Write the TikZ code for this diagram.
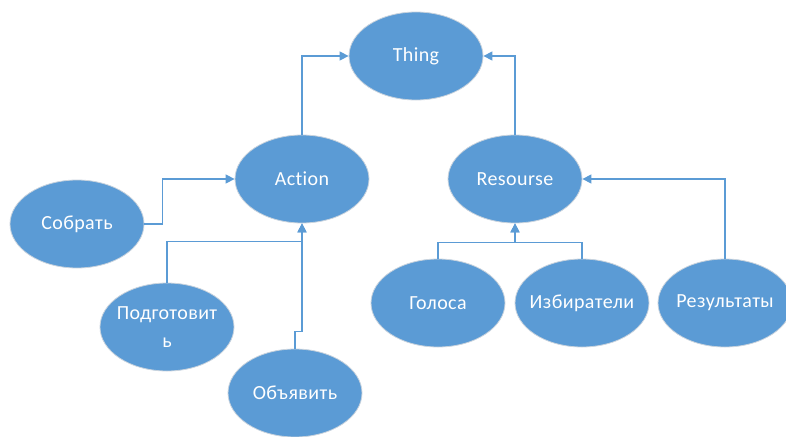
\documentclass[tikz,border=0pt]{standalone}
\usepackage{fontspec}
\setmainfont{Carlito}[Ligatures=NoCommon,LetterSpace=2]
\usetikzlibrary{shapes.geometric,arrows.meta}
\definecolor{blob}{HTML}{5B9BD5}
\definecolor{rim}{HTML}{C9D3DD}
\tikzset{blob/.style={ellipse,fill=blob,draw=rim,line width=0.8pt,text=white,minimum width=134pt,minimum height=88pt,inner xsep=-25pt,inner ysep=0pt,align=center,font=\fontsize{20}{28}\selectfont}}
\tikzset{link/.style={draw=blob,line width=1.4pt,-{Triangle[length=9pt,width=9pt]}}}

\begin{document}
\begin{tikzpicture}[x=1pt,y=-1pt]
                \useasboundingbox (0,0) rectangle (786,436);
                \node[blob] (thing) at (416,56) {Thing};
                \node[blob] (action) at (302,179) {Action};
                \node[blob] (resourse) at (515,179) {Resourse};
                \node[blob] (sobrat) at (77,224) {Собрать};
                \node[blob] (podgotovit) at (167,327) {Подготовит\\ь};
                \node[blob] (obyavit) at (295,393) {Объявить};
                \node[blob] (golosa) at (438,303) {Голоса};
                \node[blob] (izbirateli) at (582,303) {Избиратели};
                \node[blob] (rezultaty) at (725,303) {Результаты};
                \draw[link] (action.north) |- (thing.west);
                \draw[link] (resourse.north) |- (thing.east);
                \draw[link] (sobrat.east) -- ++(18,0) |- (action.west);
                \draw[link] (podgotovit.north) -- ++(0,-41) -| (action.south);
                \draw[link] (obyavit.north) -- ++(0,-17) -| (action.south);
                \draw[link] (golosa.north) -- ++(0,-16) -| (resourse.south);
                \draw[link] (izbirateli.north) -- ++(0,-16) -| (resourse.south);
                \draw[link] (rezultaty.north) |- (resourse.east);
                \end{tikzpicture}
\end{document}
